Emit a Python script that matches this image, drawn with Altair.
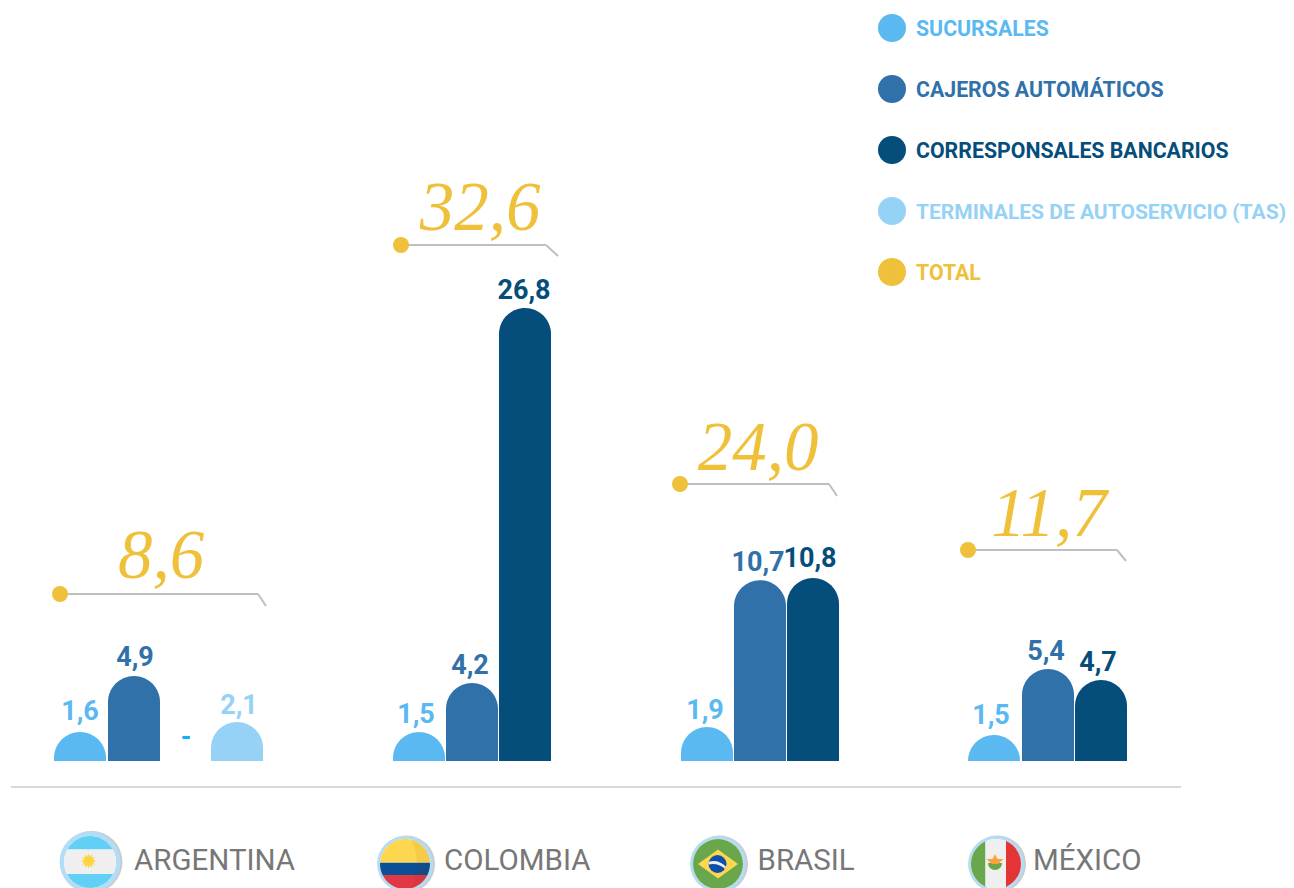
import math
import altair as alt
import pandas as pd

# ---------- values ----------
countries = ["ARGENTINA", "COLOMBIA", "BRASIL", "MÉXICO"]
totals = ["8,6", "32,6", "24,0", "11,7"]
series_names = ["SUCURSALES", "CAJEROS AUTOMÁTICOS", "CORRESPONSALES BANCARIOS",
                "TERMINALES DE AUTOSERVICIO (TAS)", "TOTAL"]
series_colors = ["#5AB9F0", "#3071A9", "#054D7A", "#95D2F6", "#EFC03A"]

bar_country = ["ARGENTINA", "ARGENTINA", "ARGENTINA",
               "COLOMBIA", "COLOMBIA", "COLOMBIA",
               "BRASIL", "BRASIL", "BRASIL",
               "MÉXICO", "MÉXICO", "MÉXICO"]
bar_series = [0, 1, 3, 0, 1, 2, 0, 1, 2, 0, 1, 2]
bar_labels = ["1,6", "4,9", "2,1", "1,5", "4,2", "26,8", "1,9", "10,7", "10,8", "1,5", "5,4", "4,7"]
# drawn height of each bar, in the chart's units, as measured on the picture
bar_heights = [1.72, 5.03, 2.31, 1.72, 4.62, 26.8, 2.01, 10.7, 10.83, 1.54, 5.44, 4.79]

# ---------- layout (page pixels) ----------
W, H = 1278, 880
PAGE = 8
BASE_Y = 761
UNIT = 16.9
bar_left = [54, 108, 211, 393, 446, 499, 681, 734, 787, 968, 1022, 1075]
BAR_W = 52
label_center = [80, 135, 239, 416, 470, 524, 705, 758, 810, 991, 1046, 1098]
label_gap = [19.5, 17.5, 15.5, 16.5, 16.5, 17.5, 16.5, 17.5, 18.5, 18.5, 17.5, 17.5]
leaders = [(60, 594, 258, 266, 606), (401, 245, 546, 558, 256),
           (680, 484, 829, 837, 496), (968, 550, 1117, 1126, 561)]
total_pos = [(161, 557), (480, 209), (758, 449), (1049, 515)]
country_pos = [(134, 860.5), (444, 860.5), (757.5, 860.5), (1033, 860.5)]
legend_rows = [28, 89, 150, 211, 272]
legend_sizes = [21.3, 21.3, 21.3, 21.0, 21.3]
LEGEND_TEXT_SHIFT = 1.5

FONT = "Roboto"
SERIF = "Liberation Serif"
GOLD = "#EFC03A"
GREY = "#BFBFBF"
RING = "#B3DDF5"
RING_GREY = "#C9CCD0"

x_scale = alt.Scale(domain=[0, W], range=[0, W])
y_scale = alt.Scale(domain=[0, (BASE_Y - PAGE) / UNIT], range=[BASE_Y - PAGE, 0])

bars = pd.DataFrame({
    "pais": bar_country,
    "serie": [series_names[i] for i in bar_series],
    "color": [series_colors[i] for i in bar_series],
    "x": [v - PAGE for v in bar_left],
    "x2": [v - PAGE + BAR_W for v in bar_left],
    "h": bar_heights,
    # bars run on under the white band so that Vega keeps the full dome radius
    "base": [-BAR_W / UNIT] * len(bar_heights),
    "label": bar_labels,
    "lx": [v - PAGE for v in label_center],
    "ly": [h + g / UNIT for h, g in zip(bar_heights, label_gap)],
})

one = pd.DataFrame({"a": [0]})
layers = []


def rule(x1, y1, x2, y2, color, width):
    layers.append(alt.Chart(one).mark_rule(color=color, strokeWidth=width).encode(
        x=alt.value(x1 - PAGE), y=alt.value(y1 - PAGE),
        x2=alt.value(x2 - PAGE), y2=alt.value(y2 - PAGE)))


def text(t, x, y, font, size, color, align="left", weight="normal", style="normal"):
    layers.append(alt.Chart(one).mark_text(
        text=t, font=font, fontSize=size, color=color, align=align,
        baseline="middle", fontWeight=weight, fontStyle=style).encode(
        x=alt.value(x - PAGE), y=alt.value(y - PAGE)))


def shape(path, x, y, r, color, opacity=1):
    layers.append(alt.Chart(one).mark_point(
        shape=path, filled=True, size=(2 * r) ** 2, color=color, fill=color,
        opacity=opacity, strokeWidth=0).encode(
        x=alt.value(x - PAGE), y=alt.value(y - PAGE)))


def disc(x, y, r, color):
    layers.append(alt.Chart(one).mark_point(
        shape="circle", filled=True, size=(2 * r) ** 2, color=color, fill=color,
        opacity=1, strokeWidth=0).encode(
        x=alt.value(x - PAGE), y=alt.value(y - PAGE)))


def hband(y1, y2):
    a, b = math.sqrt(max(0, 1 - y1 * y1)), math.sqrt(max(0, 1 - y2 * y2))
    return f"M {-a:.4f} {y1} A 1 1 0 0 0 {-b:.4f} {y2} L {b:.4f} {y2} A 1 1 0 0 0 {a:.4f} {y1} Z"


def vband(x1, x2):
    a, b = math.sqrt(max(0, 1 - x1 * x1)), math.sqrt(max(0, 1 - x2 * x2))
    return f"M {x1} {-a:.4f} A 1 1 0 0 1 {x2} {-b:.4f} L {x2} {b:.4f} A 1 1 0 0 1 {x1} {a:.4f} Z"


def badge(x, y, outer, inner):
    disc(x + 1.5, y, outer, RING_GREY)
    disc(x, y, outer - 0.6, RING)
    disc(x, y, inner, "#FFFFFF")


def star(n=12, inner=0.62):
    pts = []
    for i in range(2 * n):
        r = 1 if i % 2 == 0 else inner
        ang = math.pi * i / n
        pts.append(f"{r * math.cos(ang):.3f} {r * math.sin(ang):.3f}")
    return "M" + "L".join(pts) + "Z"


# bars
layers.append(alt.Chart(bars).mark_bar(
    cornerRadiusTopLeft=BAR_W / 2, cornerRadiusTopRight=BAR_W / 2).encode(
    x=alt.X("x:Q", scale=x_scale, axis=None),
    x2="x2:Q",
    y=alt.Y("h:Q", scale=y_scale, axis=None),
    y2="base:Q",
    color=alt.Color("color:N", scale=None),
))
# white band that ends the bars at the baseline
layers.append(alt.Chart(one).mark_rect(color="#FFFFFF").encode(
    x=alt.value(0), x2=alt.value(W), y=alt.value(BASE_Y - PAGE), y2=alt.value(BASE_Y - PAGE + 56)))
layers.append(alt.Chart(bars).mark_text(
    font=FONT, fontSize=27, fontWeight="bold", baseline="middle").encode(
    x=alt.X("lx:Q", scale=x_scale, axis=None),
    y=alt.Y("ly:Q", scale=y_scale, axis=None),
    text="label:N",
    color=alt.Color("color:N", scale=None),
))
text("-", 186, 738, FONT, 27, "#0FAEEE", "center", "bold")

# baseline
rule(11, 787, 1181, 787, "#D9D9D9", 2)

# totals with their leader lines
for (dx, dy, x1, x2, y2), t, (tx, ty) in zip(leaders, totals, total_pos):
    rule(dx, dy, x1, dy, GREY, 2)
    rule(x1, dy, x2, y2, GREY, 2)
    disc(dx, dy, 8, GOLD)
    text(t, tx, ty, SERIF, 69, GOLD, "center", "normal", "italic")

# country names
for name, (cx, cy) in zip(countries, country_pos):
    text(name, cx, cy, FONT, 29.5, "#777777")

# Argentina flag
badge(90, 862, 31, 26)
shape(hband(-1, -0.48), 90, 862, 26, "#62CFF7")
shape(hband(-0.48, 0.46), 90, 862, 26, "#EFEFEF")
shape(hband(0.46, 1), 90, 862, 26, "#62CFF7")
shape(star(), 88.5, 861, 7.5, "#FFD53F")

# Colombia flag
badge(405, 864, 28.5, 25)
shape(hband(-1, -0.05), 405, 864, 25, "#FFD64F")
shape(hband(-0.05, 0.44), 405, 864, 25, "#0B4F96")
shape(hband(0.44, 1), 405, 864, 25, "#E23744")
shape("M 0.25 -0.97 A 1 1 0 0 1 0.25 0.97 Q 0.7 0 0.25 -0.97 Z", 405, 864, 25, "#6A3A00", 0.07)

# Brazil flag
badge(718, 864, 28.5, 25)
disc(718, 864, 25, "#69A64C")
shape("M -1 0 L 0 -0.73 L 1 0 L 0 0.73 Z", 718, 864, 20, "#FFD64F")
disc(717.5, 864, 9, "#0E4FA8")
shape("M -1 -0.25 Q 0.1 -0.55 0.95 0.3 L 0.85 0.55 Q 0 -0.2 -1 0.05 Z", 717.5, 864, 9, "#EDEDED")

# Mexico flag
badge(996, 864, 28.5, 25)
shape(vband(-1, -0.42), 996, 864, 25, "#69A64C")
shape(vband(-0.42, 0.4), 996, 864, 25, "#EFEFEF")
shape(vband(0.4, 1), 996, 864, 25, "#E53434")
shape("M -1 0 A 1 1 0 0 0 1 0 Z", 995, 863, 7, "#69A64C")
shape("M -1 -0.25 L -0.3 -0.25 L 0 -0.8 L 0.3 -0.25 L 1 -0.25 L 0.35 0.35 L -0.35 0.35 Z", 995, 861, 8.5, "#F9A13A")

# legend
for name, color, y, s in zip(series_names, series_colors, legend_rows, legend_sizes):
    disc(892, y, 14, color)
    text(name, 916, y + LEGEND_TEXT_SHIFT, FONT, s, color, "left", "bold")

chart = alt.layer(*layers).properties(
    width=W, height=H, padding=0, background="#FFFFFF",
    autosize=alt.AutoSizeParams(type="none"),
).configure_view(stroke=None)

chart.save("out.html", embed_options={"renderer": "svg", "actions": False})
